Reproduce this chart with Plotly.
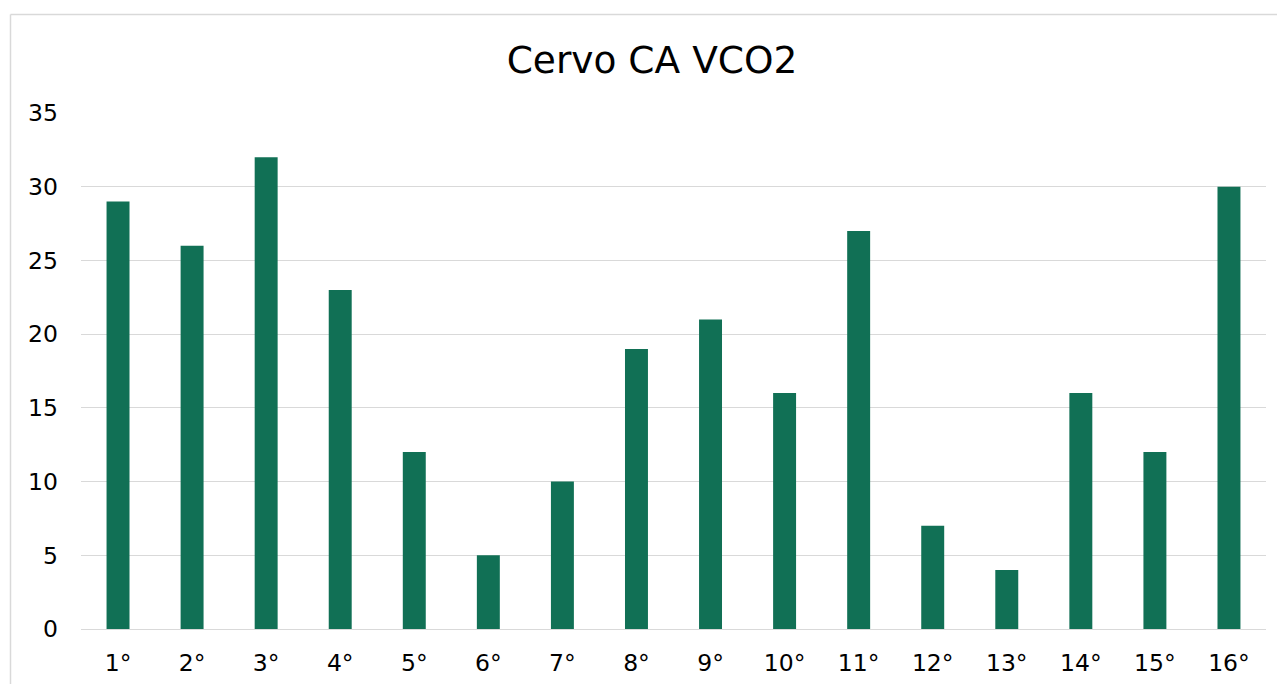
import plotly.graph_objects as go

categories = ["1°", "2°", "3°", "4°", "5°", "6°", "7°", "8°", "9°", "10°", "11°", "12°", "13°", "14°", "15°", "16°"]
values = [29, 26, 32, 23, 12, 5, 10, 19, 21, 16, 27, 7, 4, 16, 12, 30]
y_ticks = [0, 5, 10, 15, 20, 25, 30, 35]

# page body has an 8px offset; layout numbers below are in figure coordinates
W, H = 1285, 684
OFF = 8
ml, mr, mt, mb = 81 - OFF, W - (1266 - OFF), 113 - OFF, H - (629 - OFF)
pw, ph = W - ml - mr, H - mt - mb

def px_x(x):
    return (x - OFF - ml) / pw

def px_y(y):
    return 1 - (y - OFF - mt) / ph

fig = go.Figure(go.Bar(x=categories, y=values, marker=dict(color="#117055", line=dict(width=0)), width=0.31))

fig.update_layout(
    width=W, height=H,
    margin=dict(l=ml, r=mr, t=mt, b=mb),
    paper_bgcolor="white", plot_bgcolor="white",
    font=dict(family="DejaVu Sans", color="#000000"),
    showlegend=False,
    title=dict(text="Cervo CA VCO2", x=(652 - OFF) / W, xanchor="center", y=1 - (60 - OFF) / H, yanchor="middle",
               font=dict(size=37.5, family="DejaVu Sans", color="#000000")),
    xaxis=dict(showgrid=False, showline=False, ticks="", tickfont=dict(size=23.5), ticklabelstandoff=17),
    yaxis=dict(range=[0, 35], tickvals=y_ticks, showgrid=True, gridcolor="#d9d9d9", gridwidth=1,
               zeroline=True, zerolinecolor="#d9d9d9", zerolinewidth=1, showline=False, ticks="",
               tickfont=dict(size=23.5), ticklabelstandoff=22),
    shapes=[
        dict(type="line", xref="paper", yref="paper", x0=px_x(10.5), x1=px_x(1300), y0=px_y(14.5), y1=px_y(14.5),
             line=dict(color="#d9d9d9", width=1.5)),
        dict(type="line", xref="paper", yref="paper", x0=px_x(10.5), x1=px_x(10.5), y0=px_y(14.5), y1=px_y(700),
             line=dict(color="#d9d9d9", width=1.5)),
    ],
)

fig.write_html("out.html")
